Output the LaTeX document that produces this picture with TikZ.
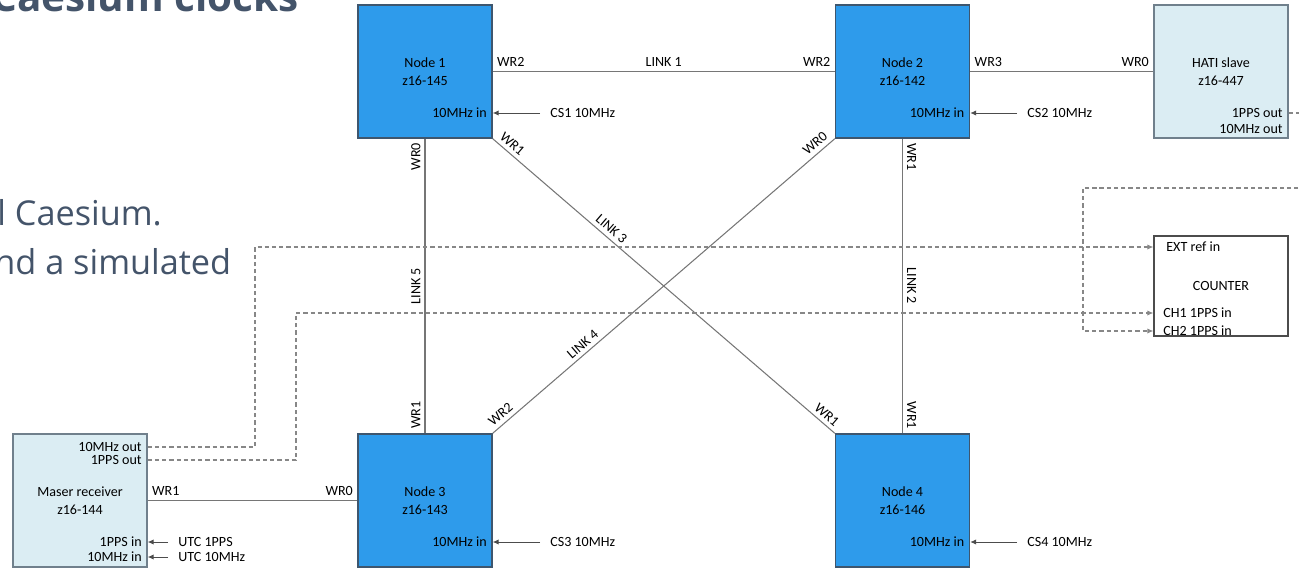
\documentclass[tikz,border=0pt]{standalone}
\usepackage{fontspec}
\setmainfont{Carlito}
\newfontfamily\slidefont{Open Sans}
\usepackage{xcolor}
\usepackage{tikz}
\usetikzlibrary{arrows.meta}
\definecolor{wrblue}{RGB}{46,155,235}
\definecolor{wredge}{RGB}{62,86,110}
\definecolor{wrpale}{RGB}{219,237,243}
\definecolor{wrpaleedge}{RGB}{112,128,140}
\definecolor{wrline}{RGB}{118,118,118}
\definecolor{wrdash}{RGB}{135,135,135}
\definecolor{wrslate}{RGB}{68,84,106}
\tikzset{
  wrbox/.style={draw=wredge, fill=wrblue, line width=0.8pt, minimum width=2.680cm, minimum height=2.660cm, inner sep=0pt, align=center, font=\fontsize{8}{10}\selectfont},
  wrpalebox/.style={wrbox, draw=wrpaleedge, fill=wrpale},
  wrcount/.style={draw=black!70, fill=white, line width=0.7pt, minimum width=2.680cm, minimum height=2.000cm, inner sep=0pt, font=\fontsize{8}{10}\selectfont},
  wrport/.style={inner xsep=0.1cm, inner ysep=0pt, font=\fontsize{8}{10}\selectfont},
  wrsrc/.style={wrport, inner xsep=0.2cm},
  wrlbl/.style={inner sep=0.08cm, font=\fontsize{8}{10}\selectfont},
  wrlink/.style={draw=wrline, line width=0.6pt},
  wrfeed/.style={draw=black!70, line width=0.5pt, -{Latex[length=3.4pt,width=3pt]}},
  wrsig/.style={draw=wrdash, line width=0.6pt, dash pattern=on 2.4pt off 1.7pt, -{Latex[length=3.4pt,width=3pt]}},
  wrslide/.style={text=wrslate, inner sep=0pt, anchor=base west},
}
\begin{document}
\begin{tikzpicture}
\useasboundingbox (0,0) rectangle (25.980,11.360);
\clip (0,0) rectangle (25.980,11.360);
\node[wrslide, font=\slidefont\bfseries\fontsize{23}{28}\selectfont] (slidetitle) at (-0.180,11.140) {Caesium clocks};
\node[wrslide, font=\slidefont\fontsize{19.5}{23}\selectfont] (slideline1) at (-0.060,6.860) {l Caesium.};
\node[wrslide, font=\slidefont\fontsize{19.5}{23}\selectfont] (slideline2) at (-0.120,5.880) {nd a simulated};
\node[wrbox] (n1) at (8.500,9.930) {Node 1\\z16-145};
\node[wrbox] (n2) at (18.050,9.930) {Node 2\\z16-142};
\node[wrbox] (n3) at (8.500,1.350) {Node 3\\z16-143};
\node[wrbox] (n4) at (18.050,1.350) {Node 4\\z16-146};
\node[wrpalebox] (mas) at (1.600,1.350) {Maser receiver\\z16-144};
\node[wrpalebox] (hati) at (24.420,9.930) {HATI slave\\z16-447};
\node[wrcount] (cnt) at (24.420,5.640) {COUNTER};
\node[wrport, anchor=east] (n1in) at (9.840,9.100) {10MHz in};
\node[wrport, anchor=east] (n2in) at (19.390,9.100) {10MHz in};
\node[wrport, anchor=east] (n3in) at (9.840,0.520) {10MHz in};
\node[wrport, anchor=east] (n4in) at (19.390,0.520) {10MHz in};
\node[wrport, anchor=east] (mo10) at (2.940,2.420) {10MHz out};
\node[wrport, anchor=east] (mopps) at (2.940,2.160) {1PPS out};
\node[wrport, anchor=east] (mipps) at (2.940,0.520) {1PPS in};
\node[wrport, anchor=east] (mi10) at (2.940,0.220) {10MHz in};
\node[wrport, anchor=east] (hpps) at (25.760,9.100) {1PPS out};
\node[wrport, anchor=east] (h10) at (25.760,8.780) {10MHz out};
\node[wrport, anchor=west] (ext) at (23.220,6.420) {EXT ref in};
\node[wrport, anchor=west] (ch1) at (23.160,5.100) {CH1 1PPS in};
\node[wrport, anchor=west] (ch2) at (23.160,4.740) {CH2 1PPS in};
\node[wrsrc, anchor=west] (cs1) at (10.800,9.100) {CS1 10MHz};
\node[wrsrc, anchor=west] (cs2) at (20.340,9.100) {CS2 10MHz};
\node[wrsrc, anchor=west] (cs3) at (10.800,0.520) {CS3 10MHz};
\node[wrsrc, anchor=west] (cs4) at (20.340,0.520) {CS4 10MHz};
\node[wrsrc, anchor=west] (utc1) at (3.360,0.520) {UTC 1PPS};
\node[wrsrc, anchor=west] (utc2) at (3.360,0.220) {UTC 10MHz};
\coordinate (tapa) at (5.100,6.420);
\coordinate (tapb) at (5.920,5.100);
\coordinate (hatiout) at (26.200,7.600);
\coordinate (cntin) at (21.660,7.600);
\draw[wrfeed] (cs1.west) -- (cs1.west -| n1.east);
\draw[wrfeed] (cs2.west) -- (cs2.west -| n2.east);
\draw[wrfeed] (cs3.west) -- (cs3.west -| n3.east);
\draw[wrfeed] (cs4.west) -- (cs4.west -| n4.east);
\draw[wrfeed] (utc1.west) -- (utc1.west -| mas.east);
\draw[wrfeed] (utc2.west) -- (utc2.west -| mas.east);
\draw[wrlink] (n1) -- node[wrlbl, above]{LINK 1} node[wrlbl, pos=0, anchor=south west]{WR2} node[wrlbl, pos=1, anchor=south east]{WR2} (n2);
\draw[wrlink] (n2) -- node[wrlbl, pos=0, anchor=south west]{WR3} node[wrlbl, pos=1, anchor=south east]{WR0} (hati);
\draw[wrlink] (mas) -- node[wrlbl, pos=0, anchor=south west]{WR1} node[wrlbl, pos=1, anchor=south east]{WR0} (n3);
\draw[wrlink] (n1) -- node[wrlbl, rotate=90, pos=0, anchor=south east]{WR0} node[wrlbl, rotate=90, anchor=south]{LINK 5} node[wrlbl, rotate=90, pos=1, anchor=south west]{WR1} (n3);
\draw[wrlink] (n2) -- node[wrlbl, rotate=-90, pos=0, anchor=south west]{WR1} node[wrlbl, rotate=-90, anchor=south]{LINK 2} node[wrlbl, rotate=-90, pos=1, anchor=south east]{WR1} (n4);
\draw[wrlink] (n1.south east) -- node[wrlbl, sloped, pos=0, anchor=south west]{WR1} node[wrlbl, sloped, pos=0.33, above]{LINK 3} node[wrlbl, sloped, pos=1, anchor=south east]{WR1} (n4.north west);
\draw[wrlink] (n3.north east) -- node[wrlbl, sloped, pos=0, anchor=south west]{WR2} node[wrlbl, sloped, pos=0.28, above]{LINK 4} node[wrlbl, sloped, pos=1, anchor=south east]{WR0} (n2.south west);
\draw[wrsig] (mo10 -| mas.east) -| (tapa) -- (ext -| cnt.west);
\draw[wrsig] (mopps -| mas.east) -| (tapb) -- (ch1 -| cnt.west);
\draw[wrsig] (hpps -| hati.east) -| (hatiout) -- (cntin) |- (ch2 -| cnt.west);
\end{tikzpicture}
\end{document}
